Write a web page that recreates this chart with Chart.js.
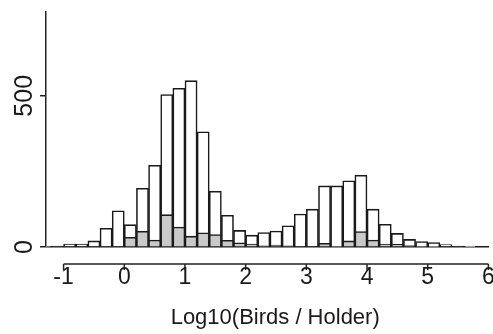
<!DOCTYPE html>
<html>
<head>
<meta charset="utf-8">
<script src="https://cdn.jsdelivr.net/npm/chart.js@4/dist/chart.umd.min.js"></script>
<style>
  html, body { margin: 0; padding: 0; background: #fff; }
  #wrap { width: 493px; height: 334px; }
</style>
</head>
<body>
<div id="wrap"><canvas id="c" width="493" height="334"></canvas></div>
<script>
// Histogram bins (centres, width 0.2 in log10 units)
const binCentres = [-1.3, -1.1, -0.9, -0.7, -0.5, -0.3, -0.1, 0.1, 0.3, 0.5, 0.7, 0.9, 1.1, 1.3, 1.5, 1.7, 1.9,
  2.1, 2.3, 2.5, 2.7, 2.9, 3.1, 3.3, 3.5, 3.7, 3.9, 4.1, 4.3, 4.5, 4.7, 4.9, 5.1, 5.3, 5.5, 5.7, 5.9];
// All holders (white bars)
const allCounts = [2, 3, 10, 10, 20, 62, 120, 74, 194, 270, 504, 525, 550, 381, 184, 105, 55,
  39, 48, 53, 70, 109, 125, 202, 202, 219, 237, 125, 75, 45, 25, 18, 15, 8, 3, 1, 0];
// Subset (grey bars)
const subsetCounts = [0, 0, 0, 0, 0, 0, 0, 32, 52, 23, 107, 66, 36, 47, 41, 22, 14,
  10, 4, 6, 4, 0, 0, 12, 2, 20, 51, 23, 10, 9, 5, 2, 1, 0, 0, 0, 0];
const xTickValues = [-1, 0, 1, 2, 3, 4, 5, 6];
const yTickValues = [0, 500];
const xTitle = "Log10(Birds / Holder)";

const FONT = "'Liberation Sans', Arial, Helvetica, sans-serif";

const rAxisPlugin = {
  id: 'rAxis',
  afterDraw(chart) {
    const xs = chart.scales.x;
    const ctx = chart.ctx;
    const y = chart.chartArea.bottom + 17;
    ctx.save();
    ctx.strokeStyle = '#222';
    ctx.lineWidth = 1.5;
    ctx.beginPath();
    ctx.moveTo(xs.getPixelForValue(xTickValues[0]), y);
    ctx.lineTo(xs.getPixelForValue(xTickValues[xTickValues.length - 1]), y);
    xTickValues.forEach(v => {
      const px = xs.getPixelForValue(v);
      ctx.moveTo(px, y);
      ctx.lineTo(px, y + 6);
    });
    ctx.stroke();
    ctx.restore();
  }
};

new Chart(document.getElementById('c'), {
  type: 'bar',
  data: {
    datasets: [
      {
        label: 'All',
        data: binCentres.map((x, i) => ({ x: x, y: allCounts[i] })),
        backgroundColor: '#ffffff',
        borderColor: '#1a1a1a',
        borderWidth: 1.6,
        order: 1
      },
      {
        label: 'Subset',
        data: binCentres.map((x, i) => ({ x: x, y: subsetCounts[i] })),
        backgroundColor: '#c9c9c9',
        borderColor: '#1a1a1a',
        borderWidth: 1.6,
        order: 0
      }
    ]
  },
  options: {
    responsive: false,
    animation: false,
    devicePixelRatio: 1,
    grouped: false,
    barPercentage: 1,
    categoryPercentage: 1,
    layout: { padding: { top: 12, right: 4, bottom: 3, left: 0 } },
    plugins: { legend: { display: false }, tooltip: { enabled: false } },
    scales: {
      x: {
        type: 'linear',
        offset: false,
        min: -1.29,
        max: 6.01,
        grid: { display: false, drawTicks: false },
        border: { display: false },
        afterBuildTicks: s => { s.ticks = xTickValues.map(v => ({ value: v })); },
        afterFit: s => { s.paddingLeft = 0; s.paddingRight = 0; s.height = 84; },
        ticks: {
          padding: 17,
          color: '#1a1a1a',
          font: { family: FONT, size: 23 },
          maxRotation: 0,
          autoSkip: false,
          callback: v => String(v)
        },
        title: {
          display: true,
          text: '\u2002\u2009' + xTitle,
          color: '#1a1a1a',
          font: { family: FONT, size: 22 },
          padding: { top: 14, bottom: 0 }
        }
      },
      y: {
        min: 0,
        max: 777,
        afterBuildTicks: s => { s.ticks = yTickValues.map(v => ({ value: v })); },
        afterFit: s => { s.width = 46; },
        border: { display: true, color: '#222', width: 1.5 },
        grid: {
          drawOnChartArea: true,
          color: c => (c.tick && c.tick.value === 0) ? '#1a1a1a' : 'rgba(0,0,0,0)',
          tickColor: '#222',
          tickLength: 6,
          lineWidth: 1.5
        },
        ticks: {
          minRotation: 90,
          maxRotation: 90,
          crossAlign: 'center',
          padding: -5.5,
          color: '#1a1a1a',
          font: { family: FONT, size: 25 },
          callback: v => String(v)
        }
      }
    }
  },
  plugins: [rAxisPlugin]
});
</script>
</body>
</html>
